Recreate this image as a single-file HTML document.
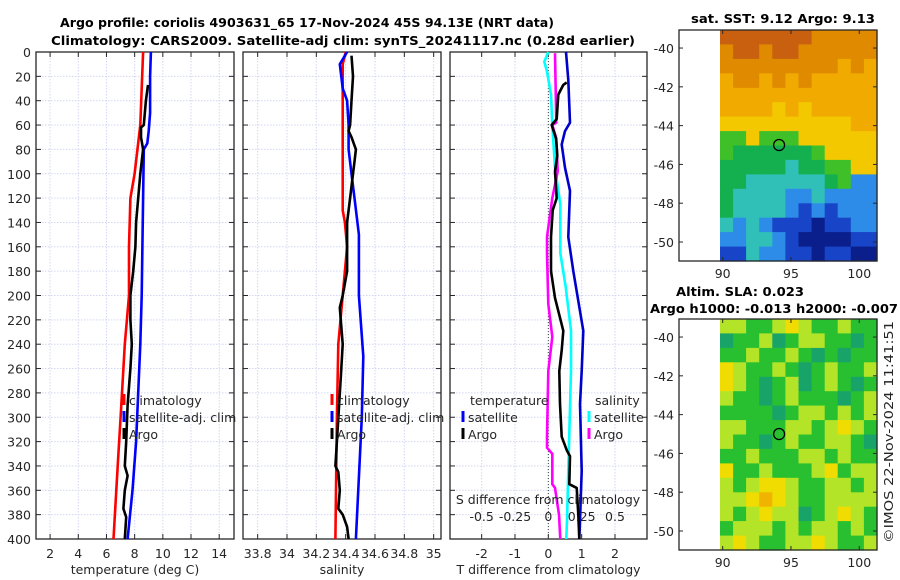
<!DOCTYPE html>
<html><head><meta charset="utf-8">
<style>
html,body{margin:0;padding:0;background:#fff;}
svg{display:block;font-family:"DejaVu Sans","Liberation Sans",sans-serif;}
.tk{font-size:12.5px;fill:#262626;}
.tt{font-size:12.5px;font-weight:bold;fill:#000;}
</style></head>
<body>
<svg id="fig" width="900" height="580" viewBox="0 0 900 580" xmlns="http://www.w3.org/2000/svg">
<text class="tt" x="307" y="27" text-anchor="middle" textLength="494" lengthAdjust="spacingAndGlyphs">Argo profile: coriolis 4903631_65 17-Nov-2024 45S 94.13E (NRT data)</text>
<text class="tt" x="343" y="45" text-anchor="middle" textLength="584" lengthAdjust="spacingAndGlyphs">Climatology: CARS2009. Satellite-adj clim: synTS_20241117.nc (0.28d earlier)</text>
<text class="tt" x="783" y="23" text-anchor="middle" textLength="184" lengthAdjust="spacingAndGlyphs">sat. SST: 9.12 Argo: 9.13</text>
<text class="tt" x="740" y="296" text-anchor="middle" textLength="128" lengthAdjust="spacingAndGlyphs">Altim. SLA: 0.023</text>
<text class="tt" x="774" y="313" text-anchor="middle" textLength="248" lengthAdjust="spacingAndGlyphs">Argo h1000: -0.013 h2000: -0.007</text>
<text class="tk" x="0" y="0" transform="translate(893,432) rotate(-90)" text-anchor="middle" textLength="222" lengthAdjust="spacingAndGlyphs">©IMOS 22-Nov-2024 11:41:51</text>
</svg>
<script>
// ---------- data ----------
const depthTicks=[0,20,40,60,80,100,120,140,160,180,200,220,240,260,280,300,320,340,360,380,400];
const tempTicks=[2,4,6,8,10,12,14];
const salTicks=[33.8,34,34.2,34.4,34.6,34.8,35];
const salTickLabels=["33.8","34","34.2","34.4","34.6","34.8","35"];
const tdiffTicks=[-2,-1,0,1,2];
const sdiffTicks=[-0.5,-0.25,0,0.25,0.5];
const sdiffTickLabels=["-0.5","-0.25","0","0.25","0.5"];
const latTicks=[-40,-42,-44,-46,-48,-50];
const lonTicks=[90,95,100];

const tClimDepth=[0,60,100,120,160,200,240,300,340,400];
const tClimVal=[8.6,8.4,8.0,7.7,7.6,7.6,7.3,7.0,6.8,6.5];
const tSatDepth=[0,20,50,65,75,80,120,160,200,240,280,320,360,400];
const tSatVal=[9.15,9.1,9.1,9.0,8.9,8.65,8.6,8.55,8.5,8.4,8.25,8.1,7.85,7.5];
const tArgoDepth=[27,40,60,62,70,80,100,120,140,160,180,200,220,240,260,290,320,340,348,360,375,382,400];
const tArgoVal=[8.95,8.8,8.65,8.45,8.45,8.6,8.4,8.25,8.1,8.05,7.9,7.7,7.7,7.8,7.7,7.5,7.4,7.3,7.5,7.3,7.2,7.4,7.3];

const sClimDepth=[0,10,130,140,160,200,240,300,400];
const sClimVal=[34.40,34.38,34.38,34.395,34.41,34.38,34.35,34.34,34.33];
const sSatDepth=[0,10,20,30,40,60,80,100,120,150,200,250,300,400];
const sSatVal=[34.41,34.36,34.37,34.38,34.41,34.42,34.42,34.44,34.46,34.49,34.49,34.52,34.51,34.47];
const sArgoDepth=[3,20,40,60,65,70,80,90,100,120,130,140,180,200,210,240,260,320,340,345,360,375,380,390,400];
const sArgoVal=[34.44,34.45,34.44,34.43,34.42,34.44,34.47,34.46,34.45,34.43,34.42,34.41,34.41,34.38,34.36,34.38,34.37,34.34,34.33,34.35,34.36,34.35,34.38,34.41,34.42];

const dTSatDepth=[0,23,58,65,76,95,114,152,180,229,262,289,344,385,400];
const dTSatVal=[0.53,0.6,0.65,0.5,0.4,0.5,0.65,0.6,0.75,1.05,1.0,0.95,1.0,0.95,0.93];
const dTArgoDepth=[25,27,35,55,60,71,85,98,120,130,152,180,202,229,245,262,289,316,327,332,355,358,380,400];
const dTArgoVal=[0.55,0.45,0.3,0.25,0.1,0.23,0.27,0.2,0.25,0.13,0.08,0.08,0.2,0.45,0.4,0.33,0.35,0.4,0.55,0.65,0.63,0.85,0.9,0.93];
const dSSatDepth=[0,8,16,35,60,95,125,165,193,229,262,344,385,400];
const dSSatVal=[0,-0.03,-0.01,0.02,0.03,0.05,0.09,0.09,0.13,0.17,0.17,0.15,0.14,0.135];
const dSArgoDepth=[1,58,60,71,98,120,152,165,207,234,262,316,325,330,355,358,380,400];
const dSArgoVal=[0.05,0.06,0.03,0.06,0.07,0.03,-0.01,-0.01,0,0.03,0,-0.01,-0.01,0.03,0.03,0.05,0.08,0.09];

const sstGrid=[
[9,9,9,9,9,9,9,8,8,8,8,8],
[8,9,9,8,9,9,8,8,8,8,8,8],
[8,8,8,8,8,8,8,8,8,7,8,7],
[7,8,8,7,8,7,8,7,7,7,7,7],
[7,7,7,7,7,7,7,7,7,7,7,7],
[7,7,7,7,6,7,6,7,7,7,7,7],
[6,6,6,6,6,6,6,6,6,6,7,7],
[5,5,6,5,5,5,6,6,6,6,6,6],
[5,4,4,4,4,4,4,5,6,6,6,6],
[4,4,4,4,4,3,4,4,5,5,6,6],
[4,4,3,3,3,3,3,3,4,5,2,2],
[4,3,3,3,3,2,2,3,2,2,2,2],
[4,3,3,3,3,2,1,2,1,2,2,2],
[3,2,3,2,1,1,1,0,1,1,2,2],
[2,2,3,3,2,1,0,0,0,0,1,1],
[1,1,3,2,2,1,1,0,1,1,0,0]];
const slaGrid=[
[2,2,1,1,2,3,2,1,1,2,1,1],
[0,1,1,2,0,1,2,2,1,1,0,1],
[1,1,2,1,1,2,1,0,1,0,1,1],
[3,2,1,1,2,1,0,1,2,1,1,2],
[3,2,1,0,1,2,0,1,2,1,0,1],
[2,1,1,0,1,2,1,1,1,0,1,2],
[1,1,1,1,0,1,2,2,1,2,1,2],
[2,2,1,1,1,2,2,1,2,3,2,1],
[2,1,1,0,1,2,1,1,2,2,1,0],
[1,1,2,1,1,1,2,2,1,2,1,1],
[3,1,1,2,1,1,1,2,3,1,2,2],
[2,1,2,3,3,2,1,1,2,2,1,2],
[2,2,3,4,3,2,1,1,2,2,2,2],
[2,1,2,3,2,2,0,1,2,3,2,1],
[1,2,2,2,1,2,1,2,2,1,2,1],
[2,3,2,1,1,2,2,3,2,1,1,2]];
const argoLon=94.13, argoLat=-45;

// ---------- drawing ----------
const NS="http://www.w3.org/2000/svg";
const svg=document.getElementById('fig');
function mk(tag,attrs,parent){const e=document.createElementNS(NS,tag);for(const k in attrs)e.setAttribute(k,attrs[k]);(parent||svg).appendChild(e);return e;}
const Y0=52,Y1=539;
const yD=d=>Y0+(d/400)*(Y1-Y0);
function lin(d0,d1,r0,r1){return v=>r0+(v-d0)/(d1-d0)*(r1-r0);}
const p1={x0:36,x1:234}, p2={x0:243,x1:441}, p3={x0:450,x1:647};
const xT=lin(1,15.05,p1.x0,p1.x1), xS=lin(33.70,35.05,p2.x0,p2.x1), xTd=lin(-2.95,2.96,p3.x0,p3.x1);
const xSd=v=>xTd(v*4);
const GRID='#d2d6f0';

function panel(p,name,xticks,xf,labels,xlabel){
  const g=mk('g',{});
  
  
  depthTicks.forEach(d=>{const l=mk('line',{x1:p.x0,x2:p.x1,y1:yD(d),y2:yD(d),stroke:GRID,'stroke-width':1,'stroke-dasharray':'1.5,1.5'},g);
    
    mk('line',{x1:p.x0,x2:p.x0+5,y1:yD(d),y2:yD(d),stroke:'#262626'},g);mk('line',{x1:p.x1-5,x2:p.x1,y1:yD(d),y2:yD(d),stroke:'#262626'},g);});
  xticks.forEach((t,i)=>{const x=xf(t);const l=mk('line',{x1:x,x2:x,y1:Y0,y2:Y1,stroke:GRID,'stroke-width':1,'stroke-dasharray':'1.5,1.5'},g);
    
    mk('line',{x1:x,x2:x,y1:Y1-5,y2:Y1,stroke:'#262626'},g);mk('line',{x1:x,x2:x,y1:Y0,y2:Y0+5,stroke:'#262626'},g);
    if(labels){const tx=mk('text',{x:x,y:558,class:'tk','text-anchor':'middle'},g);tx.textContent=labels[i];
      }});
  const r=mk('rect',{x:p.x0,y:Y0,width:p.x1-p.x0,height:Y1-Y0,fill:'none',stroke:'#262626','stroke-width':1.3},g);
  
  if(xlabel){const t=mk('text',{x:(p.x0+p.x1)/2,y:574,class:'tk','text-anchor':'middle'},g);t.textContent=xlabel;
    }
  return g;
}
panel(p1,'temperature-panel',tempTicks,xT,tempTicks.map(String),'temperature (deg C)');
panel(p2,'salinity-panel',salTicks,xS,salTickLabels,'salinity');
panel(p3,'difference-panel',tdiffTicks,xTd,tdiffTicks.map(String),'T difference from climatology');
depthTicks.forEach(d=>{const t=mk('text',{x:31,y:yD(d)+5,class:'tk','text-anchor':'end'});t.textContent=d;
  });
const zl=mk('line',{x1:xTd(0),x2:xTd(0),y1:Y0,y2:Y1,stroke:'#444','stroke-width':1,'stroke-dasharray':'1,2'});


function series(ds,vs,xf,color,name){
  const pts=ds.map((d,i)=>xf(vs[i]).toFixed(1)+','+yD(d).toFixed(1)).join(' ');
  const pl=mk('polyline',{points:pts,fill:'none',stroke:color,'stroke-width':2.6,'stroke-linejoin':'round'});
  
}
series(tClimDepth,tClimVal,xT,'#ff0000','temp-climatology-line');
series(tSatDepth,tSatVal,xT,'#0000ff','temp-satellite-line');
series(tArgoDepth,tArgoVal,xT,'#000000','temp-argo-line');
series(sClimDepth,sClimVal,xS,'#ff0000','sal-climatology-line');
series(sSatDepth,sSatVal,xS,'#0000ff','sal-satellite-line');
series(sArgoDepth,sArgoVal,xS,'#000000','sal-argo-line');
series(dSSatDepth,dSSatVal,xSd,'#00ffff','sdiff-satellite-line');
series(dSArgoDepth,dSArgoVal,xSd,'#ff00ff','sdiff-argo-line');
series(dTSatDepth,dTSatVal,xTd,'#0000cc','tdiff-satellite-line');
series(dTArgoDepth,dTArgoVal,xTd,'#000000','tdiff-argo-line');

function legItem(x,y,color,label,name){
  const m=mk('rect',{x:x-1.5,y:y-11,width:3,height:11,fill:color});
  
  const t=mk('text',{x:x+5,y:y,class:'tk'});t.textContent=label;
  
}
legItem(124,405,'#ff0000','climatology','legend-temp-climatology');
legItem(124,422,'#0000ff','satellite-adj. clim','legend-temp-satellite');
legItem(124,439,'#000000','Argo','legend-temp-argo');
legItem(332,405,'#ff0000','climatology','legend-sal-climatology');
legItem(332,422,'#0000ff','satellite-adj. clim','legend-sal-satellite');
legItem(332,439,'#000000','Argo','legend-sal-argo');
(function(){const t=mk('text',{x:470,y:405,class:'tk'});t.textContent='temperature';
const s=mk('text',{x:595,y:405,class:'tk'});s.textContent='salinity';})();
legItem(463,422,'#0000ff','satellite','legend-tdiff-satellite');
legItem(463,439,'#000000','Argo','legend-tdiff-argo');
legItem(589,422,'#00ffff','satellite','legend-sdiff-satellite');
legItem(589,439,'#ff00ff','Argo','legend-sdiff-argo');
(function(){const t=mk('text',{x:548,y:504,class:'tk','text-anchor':'middle'});t.textContent='S difference from climatology';

sdiffTicks.forEach((v,i)=>{const l=mk('text',{x:xSd(v),y:521,class:'tk','text-anchor':'middle'});l.textContent=sdiffTickLabels[i];
});})();

const sstColors=['#0a1e8c','#1844c8','#2c8ce8','#30c0b8','#14b050','#40c028','#f4c800','#f0aa00','#e08a00','#c86010'];
const slaColors=['#18a468','#28c030','#b4e428','#f0dc00','#f0b400'];
function mapPanel(top,grid,colors,name){
  const bx0=679,bx1=877,by0=top,by1=top+231;
  const xL=lin(86.8,101.3,bx0,bx1);
  const yL=lin(-39.07,-50.98,by0,by1);
  const g=mk('g',{});
  const lon0=89.8,lon1=101.3,lat0=-39.07,lat1=-50.98;
  const nr=grid.length,nc=grid[0].length;
  grid.forEach((row,r)=>row.forEach((v,c)=>{
    const xa=xL(lon0+(lon1-lon0)*c/nc), xb=xL(lon0+(lon1-lon0)*(c+1)/nc);
    const ya=yL(lat0+(lat1-lat0)*r/nr), yb=yL(lat0+(lat1-lat0)*(r+1)/nr);
    const cell=mk('rect',{x:xa.toFixed(1),y:ya.toFixed(1),width:(xb-xa+0.6).toFixed(1),height:(yb-ya+0.6).toFixed(1),fill:colors[v]},g);
    
  }));
  const b=mk('rect',{x:bx0,y:by0,width:bx1-bx0,height:by1-by0,fill:'none',stroke:'#262626','stroke-width':1.3},g);
  
  latTicks.forEach(l=>{const y=yL(l);mk('line',{x1:bx0,x2:bx0+4,y1:y,y2:y,stroke:'#262626'},g);mk('line',{x1:bx1-4,x2:bx1,y1:y,y2:y,stroke:'#262626'},g);
    const t=mk('text',{x:674,y:y+5,class:'tk','text-anchor':'end'},g);t.textContent=l;
    });
  lonTicks.forEach(l=>{const x=xL(l);mk('line',{x1:x,x2:x,y1:by1-4,y2:by1,stroke:'#262626'},g);mk('line',{x1:x,x2:x,y1:by0,y2:by0+4,stroke:'#262626'},g);
    const t=mk('text',{x:x,y:by1+17,class:'tk','text-anchor':'middle'},g);t.textContent=l;
    });
  const c=mk('circle',{cx:xL(argoLon),cy:yL(argoLat),r:5.5,fill:'none',stroke:'#000','stroke-width':1.3},g);
  
}
mapPanel(30,sstGrid,sstColors,'sst-map');
mapPanel(319,slaGrid,slaColors,'sla-map');
</script>
</body></html>
